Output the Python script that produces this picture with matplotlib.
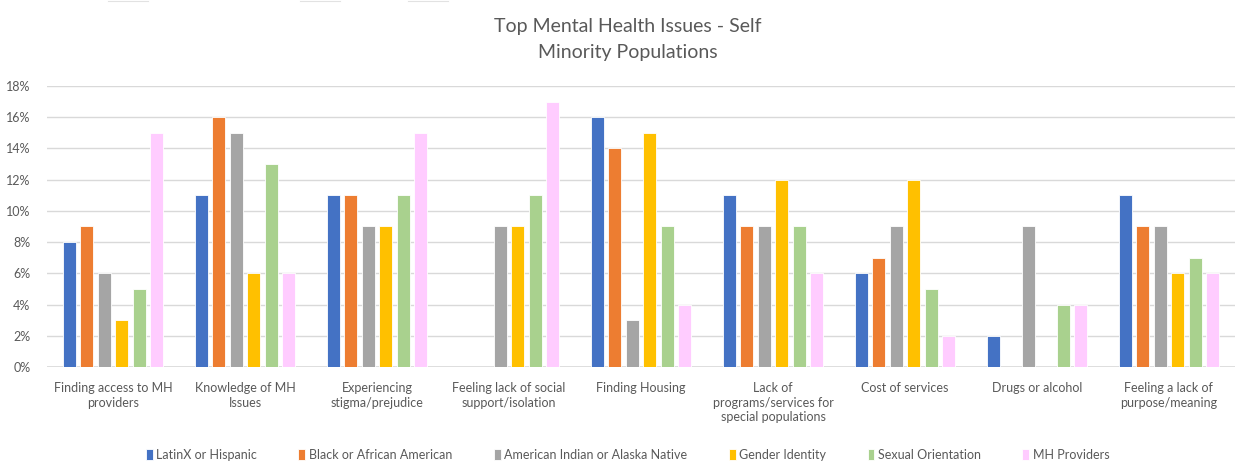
import matplotlib
matplotlib.use("Agg")
import matplotlib.pyplot as plt
import numpy as np
from matplotlib.ticker import PercentFormatter

categories = [
    "Finding access to MH\nproviders",
    "Knowledge of MH\nIssues",
    "Experiencing\nstigma/prejudice",
    "Feeling lack of social\nsupport/isolation",
    "Finding Housing",
    "Lack of\nprograms/services for\nspecial populations",
    "Cost of services",
    "Drugs or alcohol",
    "Feeling a lack of\npurpose/meaning",
]
series_names = [
    "LatinX or Hispanic",
    "Black or African American",
    "American Indian or Alaska Native",
    "Gender Identity",
    "Sexual Orientation",
    "MH Providers",
]
latinx = [8, 11, 11, 0, 16, 11, 6, 2, 11]
black = [9, 16, 11, 0, 14, 9, 7, 0, 9]
native = [6, 15, 9, 9, 3, 9, 9, 9, 9]
gender = [3, 6, 9, 9, 15, 12, 12, 0, 6]
sexual = [5, 13, 11, 11, 9, 9, 5, 4, 7]
providers = [15, 6, 15, 17, 4, 6, 2, 4, 6]
values = [latinx, black, native, gender, sexual, providers]
colors = ["#4472C4", "#ED7D31", "#A5A5A5", "#FFC000", "#A9D18E", "#FFCCFF"]

plt.rcParams["font.family"] = ["Lato", "DejaVu Sans"]
fig = plt.figure(figsize=(12.38, 4.66), dpi=100)
ax = fig.add_axes([0.038, 0.2124, 0.9595, 0.6031])

x = np.arange(len(categories))
pitch = 0.1326
width = 0.1
for i, (name, vals, c) in enumerate(zip(series_names, values, colors)):
    offs = (i - 2.5) * pitch
    ax.bar(x + offs, np.array(vals) / 100.0, width=width, color=c,
           edgecolor="white", linewidth=0.6, label=name, zorder=3)

ax.set_xlim(-0.5, len(categories) - 0.5)
ax.set_ylim(0, 0.18)
ax.set_yticks(np.arange(0, 0.181, 0.02))
ax.yaxis.set_major_formatter(PercentFormatter(1.0, decimals=0))
ax.grid(axis="y", color="#D9D9D9", linewidth=1, zorder=0)
ax.set_axisbelow(True)
for s in ax.spines.values():
    s.set_visible(False)
ax.axhline(0, color="#D9D9D9", linewidth=1.2, zorder=2)
ax.tick_params(axis="both", length=0, labelsize=9, labelcolor="#595959")
ax.tick_params(axis="y", pad=12)
ax.set_xticks(x)
ax.set_xticklabels(categories, va="top", linespacing=1.25)
ax.tick_params(axis="x", pad=11)

fig.text(0.507, 0.962, "Top Mental Health Issues - Self\nMinority Populations",
         ha="center", va="top", fontsize=14, color="#595959", linespacing=1.65)

# faint stubs of clipped header elements along the top edge
for x0, x1 in [(108, 148), (300, 340), (408, 448)]:
    fig.add_artist(plt.Line2D([x0 / 1238, x1 / 1238], [0.9985, 0.9985],
                              transform=fig.transFigure, color="#E2E2E2",
                              linewidth=0.8))

leg = fig.legend(loc="center", bbox_to_anchor=(0.507, 0.024), ncol=6,
                 frameon=False, fontsize=9, handlelength=0.55, handleheight=0.9,
                 handletextpad=0.3, columnspacing=3.3)
for t in leg.get_texts():
    t.set_color("#595959")

fig.savefig("out.png", dpi=100)
